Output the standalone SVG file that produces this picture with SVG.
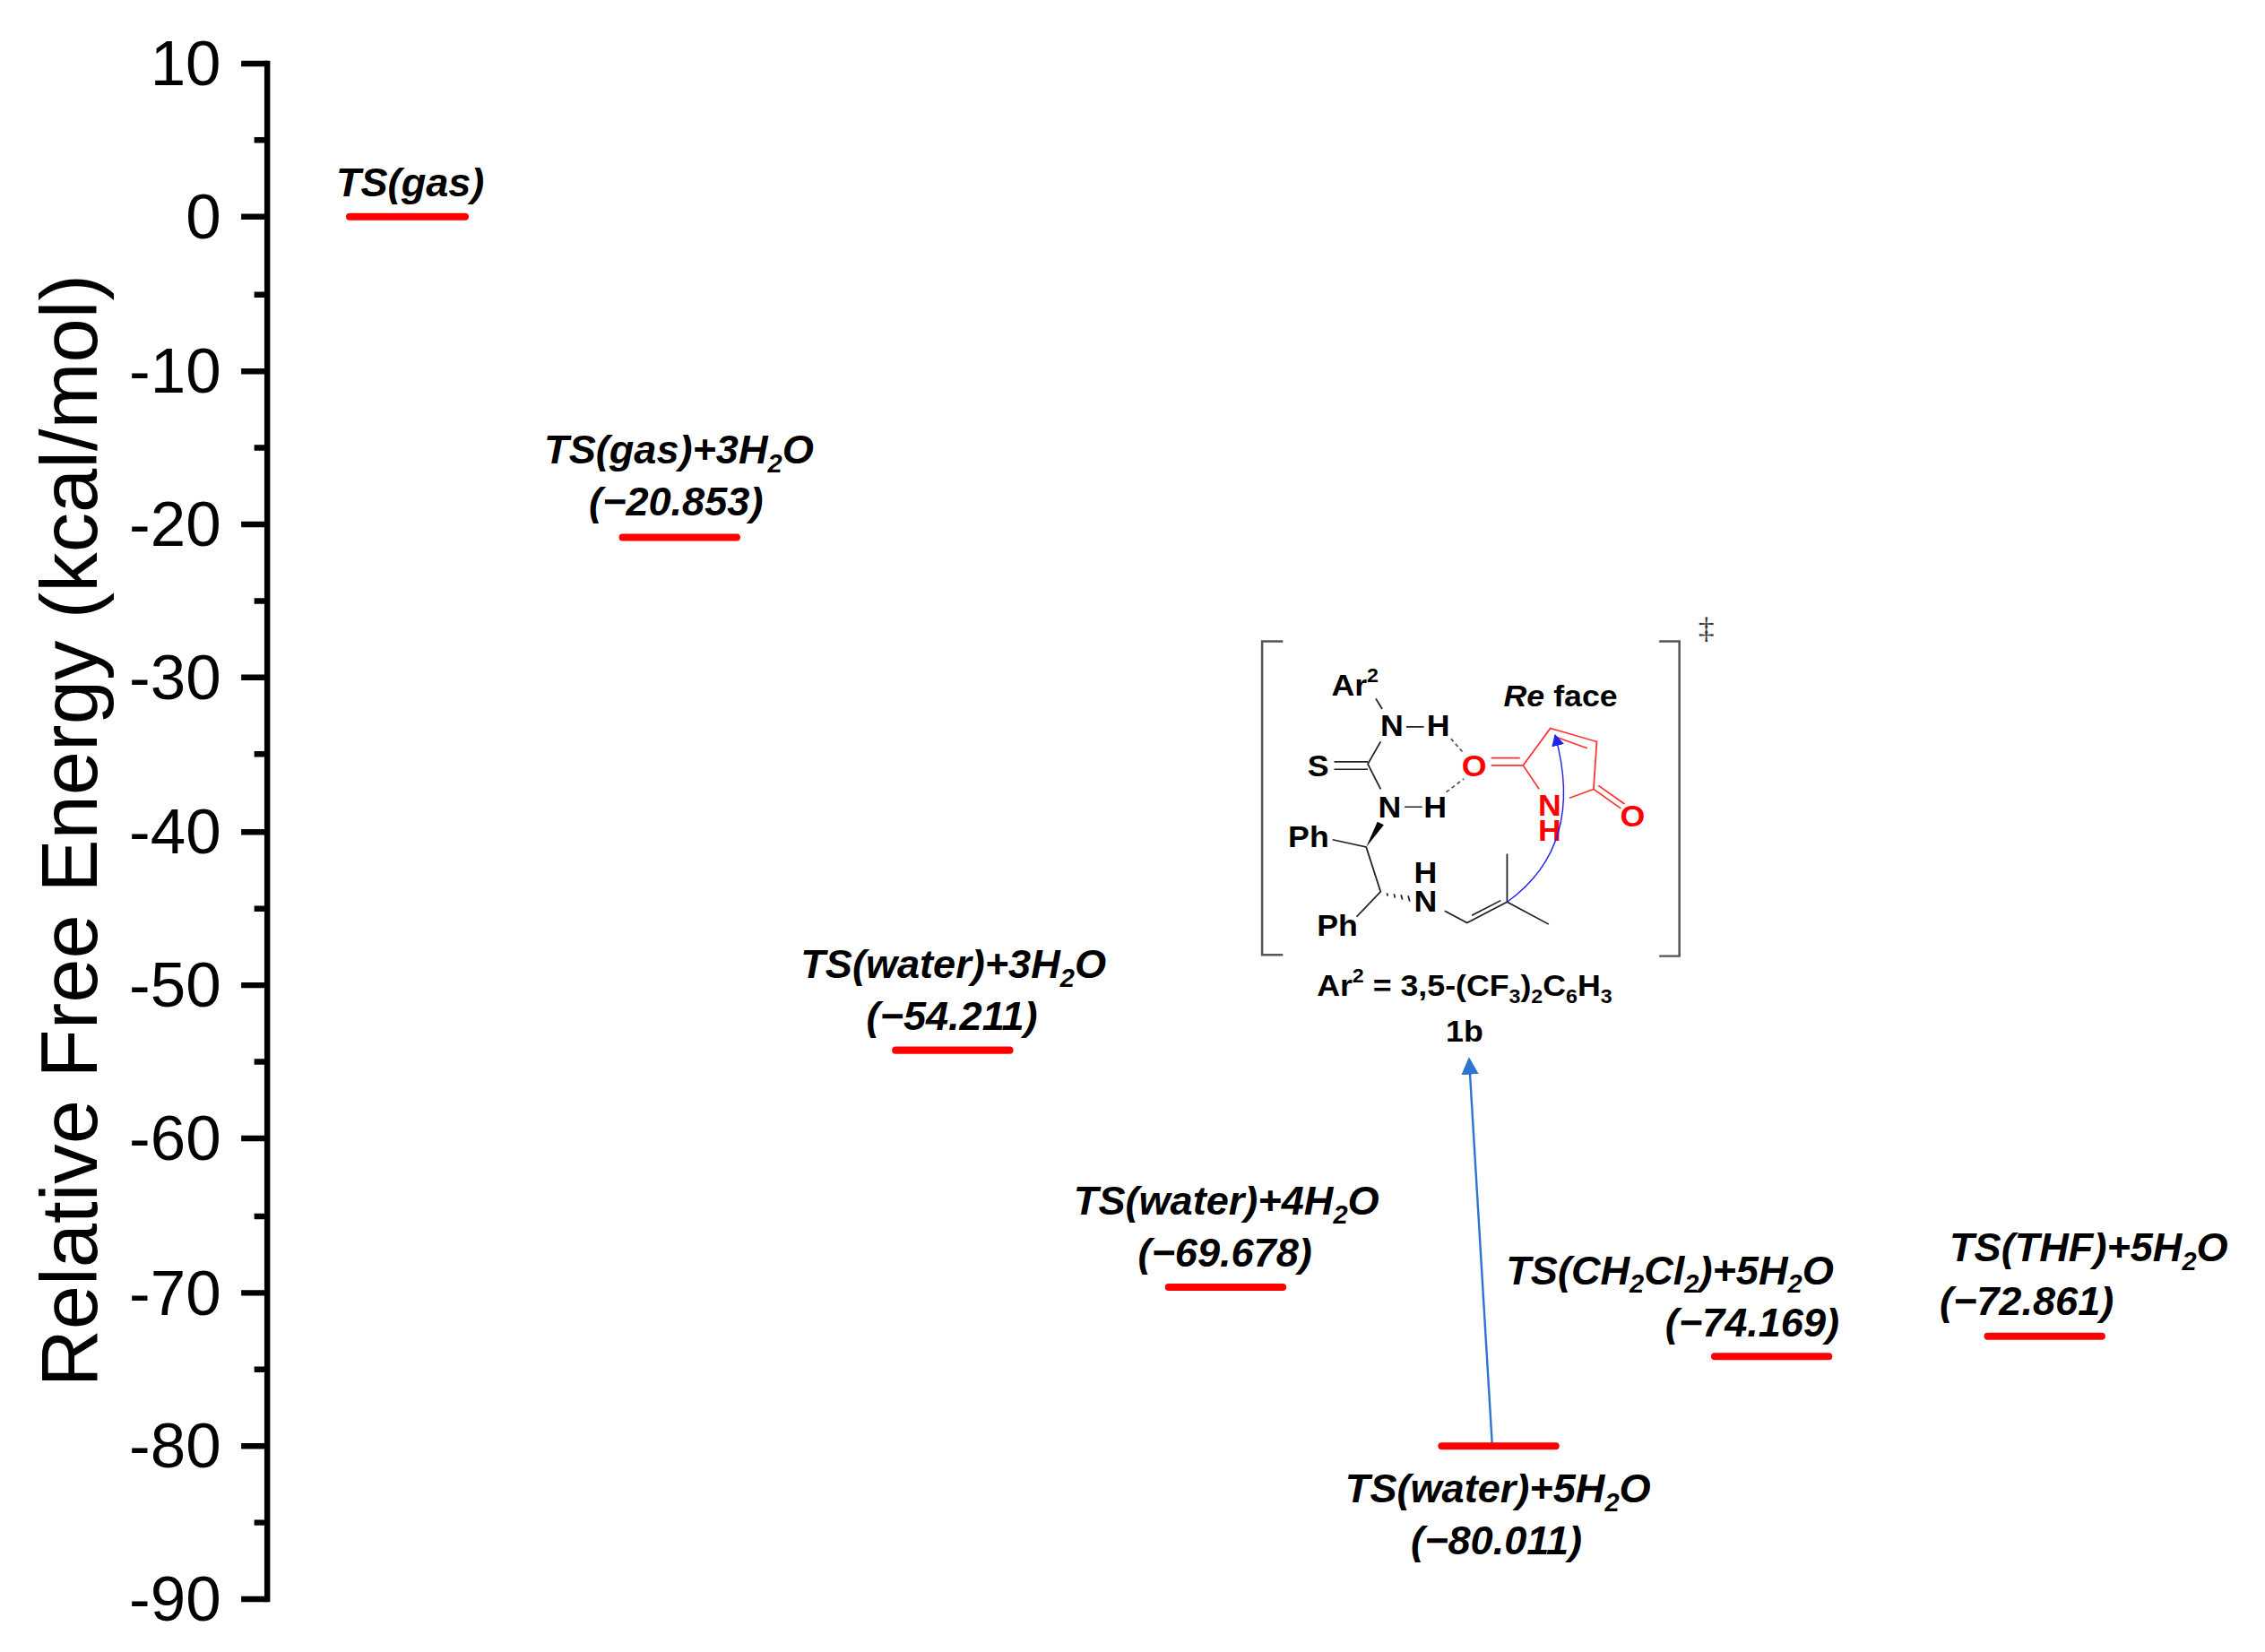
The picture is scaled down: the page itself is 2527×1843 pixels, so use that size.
<svg xmlns="http://www.w3.org/2000/svg" width="2527" height="1843" viewBox="0 0 2527 1843">
<style>
.ax{stroke:#000;stroke-width:4;fill:none}
.tk{font-family:"Liberation Sans",Arial,sans-serif;font-size:44px;text-anchor:end;fill:#000}
.lv{stroke:#f00;stroke-width:5;stroke-linecap:round}
.lb{font-family:"Liberation Sans",Arial,sans-serif;font-size:28px;font-weight:bold;font-style:italic;text-anchor:middle;fill:#000}
.m{font-family:"Liberation Sans",Arial,sans-serif;font-size:100px;font-weight:bold;fill:#000;text-anchor:middle}
.r{fill:#f00}
.bk{stroke:#222;stroke-width:5;fill:none}
.rd{stroke:#f33;stroke-width:5;fill:none}
.br{stroke:#555;stroke-width:7;fill:none}
</style>
<defs>
<marker id="ab" viewBox="0 0 10 10" refX="9" refY="5" markerWidth="12" markerHeight="12" markerUnits="userSpaceOnUse" orient="auto"><path d="M0,0 L10,5 L0,10 z" fill="#2e75d0"/></marker>
<marker id="ac" viewBox="0 0 10 10" refX="9" refY="5" markerWidth="40" markerHeight="40" markerUnits="userSpaceOnUse" orient="auto"><path d="M0,0 L10,5 L0,10 z" fill="#2222ee"/></marker>
</defs>
<rect width="2527" height="1843" fill="#fff"/>
<g transform="scale(1.6116)">
<g id="axis">
<path class="ax" d="M185,42 V1109"/>
<path class="ax" d="M167,44H185M167,150H185M167,257H185M167,363H185M167,469H185M167,576H185M167,682H185M167,788H185M167,895H185M167,1001H185M167,1107H185"/>
<path class="ax" d="M176,97H185M176,204H185M176,310H185M176,416H185M176,522H185M176,629H185M176,735H185M176,842H185M176,948H185M176,1054H185"/>
<g class="tk">
<text x="153" y="59">10</text><text x="153" y="165">0</text><text x="153" y="272">-10</text><text x="153" y="378">-20</text><text x="153" y="484">-30</text><text x="153" y="591">-40</text><text x="153" y="697">-50</text><text x="153" y="803">-60</text><text x="153" y="910">-70</text><text x="153" y="1016">-80</text><text x="153" y="1122">-90</text>
</g>
<text transform="translate(67,575) rotate(-90)" font-family="Liberation Sans,Arial,sans-serif" font-size="55" text-anchor="middle">Relative Free Energy (kcal/mol)</text>
</g>
<g id="connectors">
<line x1="1033" y1="1000" x2="1017" y2="733" stroke="#2e75d0" stroke-width="1.5" marker-end="url(#ab)"/>
</g>
<g id="ts-gas"><line class="lv" x1="242" y1="150" x2="322" y2="150"/><text class="lb" x="284" y="136">TS(gas)</text></g>
<g id="ts-gas-3h2o"><line class="lv" x1="431" y1="372" x2="510" y2="372"/><text class="lb" x="470" y="321">TS(gas)+3H<tspan font-size="18" dy="6">2</tspan><tspan dy="-6">O</tspan></text><text class="lb" x="468" y="357">(−20.853)</text></g>
<g id="ts-water-3h2o"><line class="lv" x1="620" y1="727" x2="699" y2="727"/><text class="lb" x="660" y="677">TS(water)+3H<tspan font-size="18" dy="6">2</tspan><tspan dy="-6">O</tspan></text><text class="lb" x="659" y="713">(−54.211)</text></g>
<g id="ts-water-4h2o"><line class="lv" x1="809" y1="891" x2="888" y2="891"/><text class="lb" x="849" y="841">TS(water)+4H<tspan font-size="18" dy="6">2</tspan><tspan dy="-6">O</tspan></text><text class="lb" x="848" y="877">(−69.678)</text></g>
<g id="ts-water-5h2o"><line class="lv" x1="998" y1="1001" x2="1077" y2="1001"/><text class="lb" x="1037" y="1040">TS(water)+5H<tspan font-size="18" dy="6">2</tspan><tspan dy="-6">O</tspan></text><text class="lb" x="1036" y="1076">(−80.011)</text></g>
<g id="ts-ch2cl2"><line class="lv" x1="1187" y1="939" x2="1266" y2="939"/><text class="lb" x="1156" y="889">TS(CH<tspan font-size="18" dy="6">2</tspan><tspan dy="-6">Cl</tspan><tspan font-size="18" dy="6">2</tspan><tspan dy="-6">)+5H</tspan><tspan font-size="18" dy="6">2</tspan><tspan dy="-6">O</tspan></text><text class="lb" x="1213" y="925">(−74.169)</text></g>
<g id="ts-thf"><line class="lv" x1="1376" y1="925" x2="1455" y2="925"/><text class="lb" x="1446" y="873">TS(THF)+5H<tspan font-size="18" dy="6">2</tspan><tspan dy="-6">O</tspan></text><text class="lb" x="1403" y="910">(−72.861)</text></g>
<g id="structure-1b" transform="translate(856,423) scale(0.2217,0.2055)">
<path class="br" d="M145,102H80V1158H145M1320,102H1383V1162H1320"/>
<text x="1467" y="90" font-family="Liberation Serif,serif" font-size="100" text-anchor="middle" fill="#333">‡</text>
<text class="m" x="370" y="285">Ar<tspan font-size="65" dy="-45">2</tspan></text>
<path class="bk" d="M435,295L455,330M450,440L410,515L450,600M305,508H410M305,533H410M530,390H585M525,660H580M300,770L405,795L450,945L375,1030M650,1010L720,1050L845,980M735,1025L825,975M845,980V818M845,980L975,1055"/>
<path d="M670,430L710,480M655,610L710,565" stroke="#555" stroke-width="5" stroke-dasharray="12,10"/>
<path d="M440,710L460,720L405,795z" fill="#000"/>
<path d="M470,950L472,960M492,953L495,966M514,956L518,972M536,959L541,978" stroke="#222" stroke-width="5"/>
<text class="m" x="485" y="420">N</text><text class="m" x="630" y="420">H</text>
<text class="m" x="255" y="555">S</text>
<text class="m" x="478" y="695">N</text><text class="m" x="620" y="695">H</text>
<text class="m" x="225" y="795">Ph</text><text class="m" x="315" y="1095">Ph</text>
<text class="m" x="590" y="915">H</text><text class="m" x="590" y="1012">N</text>
<path class="rd" d="M795,495H885M795,520H895L980,395L1125,440L1115,600L1040,630M945,600L895,520M1000,425L1095,462M1115,600L1200,665M1130,588L1212,650"/>
<text class="m r" x="742" y="555">O</text><text class="m r" x="1237" y="725">O</text>
<text class="m r" x="978" y="690">N</text><text class="m r" x="978" y="775">H</text>
<path d="M845,980Q1090,790 995,418" stroke="#2222ee" stroke-width="4" fill="none" marker-end="url(#ac)"/>
<text class="m" x="1012" y="320"><tspan font-style="italic">Re</tspan> face</text>
<text class="m" x="712" y="1295">Ar<tspan font-size="65" dy="-45">2</tspan><tspan dy="45"> = 3,5-(CF</tspan><tspan font-size="65" dy="25">3</tspan><tspan dy="-25">)</tspan><tspan font-size="65" dy="25">2</tspan><tspan dy="-25">C</tspan><tspan font-size="65" dy="25">6</tspan><tspan dy="-25">H</tspan><tspan font-size="65" dy="25">3</tspan></text>
<text class="m" x="712" y="1450">1b</text>
</g>
</g>
</svg>
